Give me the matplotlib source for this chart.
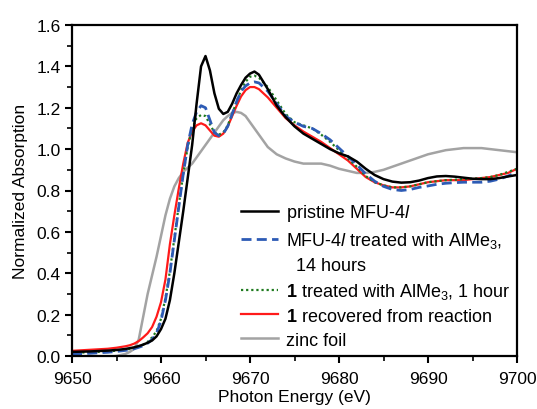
import matplotlib
matplotlib.use("Agg")
import matplotlib.pyplot as plt
from matplotlib.lines import Line2D
from matplotlib.ticker import MultipleLocator

plt.rcParams["font.family"] = ["Liberation Sans", "DejaVu Sans"]
plt.rcParams["mathtext.fontset"] = "custom"
plt.rcParams["mathtext.rm"] = "Liberation Sans"
plt.rcParams["mathtext.it"] = "Liberation Sans:italic"
plt.rcParams["mathtext.bf"] = "Liberation Sans:bold"

# photon energy grid (eV)
energy = [9650, 9652, 9654, 9655,
          9656, 9656.5, 9657, 9657.5, 9658, 9658.5, 9659, 9659.5, 9660, 9660.5,
          9661, 9661.5, 9662, 9662.5, 9663, 9663.5, 9664, 9664.5, 9665, 9665.5,
          9666, 9666.5, 9667, 9667.5, 9668, 9668.5, 9669, 9669.5, 9670, 9670.5, 9671,
          9672, 9673, 9674, 9675, 9676, 9677, 9678, 9679, 9680, 9681, 9682, 9683,
          9684, 9685, 9686, 9687, 9688, 9689, 9690, 9691, 9692, 9693, 9694, 9695,
          9696, 9697, 9698, 9699, 9700]

pristine = [0.020, 0.022, 0.026, 0.029,
            0.034, 0.038, 0.042, 0.048, 0.055, 0.064, 0.075, 0.095, 0.13, 0.18,
            0.27, 0.40, 0.55, 0.70, 0.86, 1.02, 1.22, 1.40, 1.45, 1.38,
            1.27, 1.195, 1.17, 1.18, 1.22, 1.27, 1.31, 1.345, 1.365, 1.375, 1.36,
            1.29, 1.21, 1.155, 1.11, 1.075, 1.05, 1.025, 1.0, 0.98, 0.965, 0.94, 0.905,
            0.875, 0.855, 0.843, 0.838, 0.84, 0.848, 0.86, 0.868, 0.87, 0.867, 0.862, 0.857,
            0.855, 0.855, 0.86, 0.868, 0.875]

treated_14h = [0.010, 0.013, 0.018, 0.022,
               0.027, 0.030, 0.035, 0.042, 0.05, 0.062, 0.08, 0.11, 0.17, 0.27,
               0.40, 0.56, 0.72, 0.88, 1.02, 1.12, 1.18, 1.21, 1.20, 1.14,
               1.08, 1.065, 1.075, 1.11, 1.17, 1.23, 1.28, 1.305, 1.32, 1.325, 1.32,
               1.28, 1.22, 1.16, 1.13, 1.11, 1.10, 1.075, 1.045, 1.005, 0.965, 0.925, 0.88,
               0.845, 0.82, 0.805, 0.80, 0.805, 0.815, 0.822, 0.83, 0.835, 0.838, 0.84, 0.84,
               0.84, 0.845, 0.855, 0.87, 0.89]

treated_1h = [0.015, 0.018, 0.022, 0.026,
              0.031, 0.034, 0.039, 0.046, 0.055, 0.068, 0.09, 0.12, 0.18, 0.28,
              0.41, 0.57, 0.73, 0.88, 1.01, 1.10, 1.15, 1.165, 1.16, 1.12,
              1.08, 1.07, 1.08, 1.115, 1.17, 1.23, 1.285, 1.325, 1.35, 1.355, 1.345,
              1.30, 1.235, 1.17, 1.13, 1.115, 1.10, 1.07, 1.035, 0.995, 0.955, 0.915, 0.87,
              0.84, 0.825, 0.815, 0.815, 0.82, 0.83, 0.84, 0.845, 0.85, 0.852, 0.855, 0.857,
              0.86, 0.865, 0.875, 0.89, 0.905]

recovered = [0.025, 0.030, 0.035, 0.040,
             0.047, 0.052, 0.06, 0.072, 0.09, 0.11, 0.14, 0.19, 0.26, 0.37,
             0.54, 0.68, 0.81, 0.93, 1.03, 1.085, 1.115, 1.125, 1.115, 1.09,
             1.065, 1.06, 1.075, 1.11, 1.16, 1.21, 1.255, 1.285, 1.30, 1.30, 1.29,
             1.25, 1.20, 1.15, 1.115, 1.085, 1.06, 1.035, 1.005, 0.975, 0.945, 0.905, 0.865,
             0.84, 0.825, 0.815, 0.815, 0.82, 0.83, 0.84, 0.845, 0.85, 0.85, 0.85, 0.855,
             0.86, 0.865, 0.875, 0.885, 0.905]

zinc_foil = [-0.01, -0.01, -0.005, 0.0,
             0.01, 0.02, 0.035, 0.08, 0.19, 0.30, 0.39, 0.48, 0.58, 0.68,
             0.76, 0.82, 0.86, 0.89, 0.91, 0.93, 0.96, 0.99, 1.02, 1.05,
             1.08, 1.11, 1.14, 1.16, 1.175, 1.18, 1.175, 1.16, 1.13, 1.10, 1.07,
             1.01, 0.975, 0.955, 0.94, 0.93, 0.93, 0.93, 0.92, 0.905, 0.895, 0.885, 0.885,
             0.89, 0.90, 0.915, 0.93, 0.945, 0.96, 0.975, 0.985, 0.995, 1.0, 1.005, 1.005,
             1.005, 1.0, 0.995, 0.99, 0.985]

dash_blue = (0, (3.6, 1.9))
dot_green = (0, (1, 1.3))

fig = plt.figure(figsize=(5.37, 4.10), dpi=100)
ax = fig.add_axes([72 / 537, 53 / 410, 445 / 537, 331 / 410])

ax.plot(energy, zinc_foil, color="#a3a3a3", lw=1.8)
ax.plot(energy, recovered, color="#ff1a1a", lw=1.6)
ax.plot(energy, treated_1h, color="#1e7a1e", lw=1.6, ls=dot_green)
ax.plot(energy, treated_14h, color="#2d5bb5", lw=2.0, ls=dash_blue)
ax.plot(energy, pristine, color="black", lw=1.8)

ax.set_xlim(9650, 9700)
ax.set_ylim(0, 1.6)
ax.xaxis.set_major_locator(MultipleLocator(10))
ax.xaxis.set_minor_locator(MultipleLocator(5))
ax.yaxis.set_major_locator(MultipleLocator(0.2))
ax.yaxis.set_minor_locator(MultipleLocator(0.1))
ax.yaxis.set_major_formatter(matplotlib.ticker.FormatStrFormatter("%.1f"))
ax.tick_params(which="major", direction="out", length=5, width=1.5, labelsize=12.5, pad=3)
ax.tick_params(axis="x", which="major", pad=6)
ax.tick_params(which="minor", direction="out", length=3.5, width=1.2)
for s in ax.spines.values():
    s.set_linewidth(1.6)

ax.set_xlabel("Photon Energy (eV)", fontsize=12.5, labelpad=2)
ax.set_ylabel("Normalized Absorption", fontsize=12.5, labelpad=6)

handles = [
    Line2D([], [], color="black", lw=1.8),
    Line2D([], [], color="#2d5bb5", lw=2.0, ls=dash_blue),
    Line2D([], [], color="none"),
    Line2D([], [], color="#1e7a1e", lw=1.6, ls=dot_green),
    Line2D([], [], color="#ff1a1a", lw=1.6),
    Line2D([], [], color="#a3a3a3", lw=1.8),
]
labels = [
    "pristine MFU-4$\\it{l}$",
    "MFU-4$\\it{l}$ treated with AlMe$_3$,",
    "  14 hours",
    "$\\bf{1}$ treated with AlMe$_3$, 1 hour",
    "$\\bf{1}$ recovered from reaction",
    "zinc foil",
]
ax.legend(handles, labels, loc="upper left", bbox_to_anchor=(0.364, 0.486),
          frameon=False, fontsize=13, handlelength=2.05, handletextpad=0.45,
          labelspacing=0.38, borderaxespad=0)

fig.savefig("out.png", dpi=100)
